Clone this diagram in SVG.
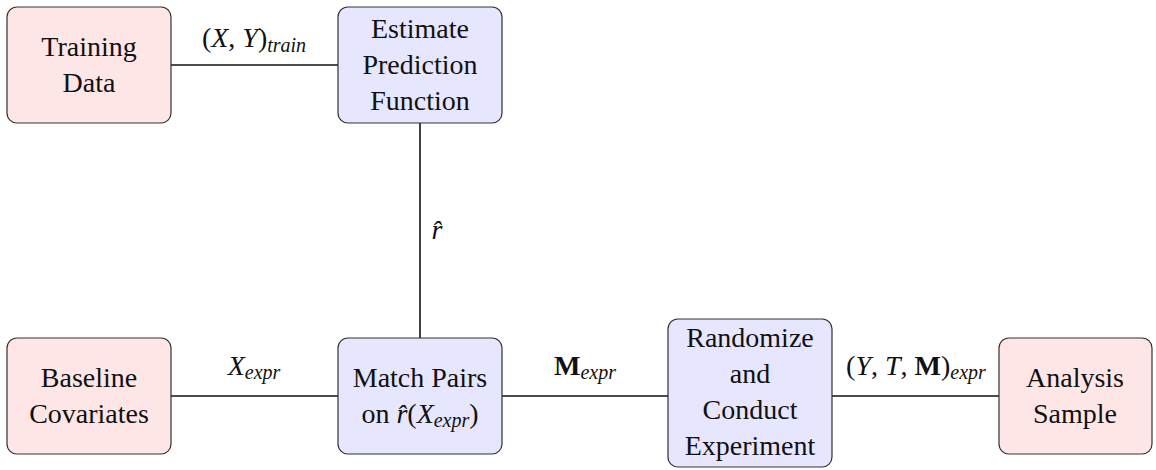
<svg xmlns="http://www.w3.org/2000/svg" width="1156" height="470" viewBox="0 0 1156 470">
<style>
.box{stroke:#333;stroke-width:1.2}
.in{fill:#ffe6e6}
.pr{fill:#e6e6ff}
.t{font-family:"Liberation Serif","Times New Roman",Times,serif;font-size:28px;fill:#111;text-anchor:middle}
.i{font-style:italic}
.s{font-size:20px;font-style:italic}
.b{font-weight:bold}
.e{stroke:#111;stroke-width:1.6;fill:none}
</style>
<rect width="1156" height="470" fill="#fff"/>
<g id="edges">
<line class="e" x1="171" y1="65" x2="338" y2="65"/>
<line class="e" x1="420" y1="123" x2="420" y2="338"/>
<line class="e" x1="171" y1="396" x2="338" y2="396"/>
<line class="e" x1="502" y1="396" x2="668" y2="396"/>
<line class="e" x1="832" y1="396" x2="999" y2="396"/>
<text class="t" x="254" y="47">(<tspan class="i">X</tspan>, <tspan class="i">Y</tspan>)<tspan class="s" dy="5">train</tspan></text>
<text class="t i" x="437" y="239">r̂</text>
<text class="t" x="254" y="375"><tspan class="i">X</tspan><tspan class="s" dy="4">expr</tspan></text>
<text class="t" x="585" y="375"><tspan class="b">M</tspan><tspan class="s" dy="4">expr</tspan></text>
<text class="t" x="916" y="375">(<tspan class="i">Y</tspan>, <tspan class="i">T</tspan>, <tspan class="b">M</tspan>)<tspan class="s" dy="4">expr</tspan></text>
</g>
<g id="training">
<rect class="box in" x="7" y="7" width="164" height="116" rx="10"/>
<text class="t" x="89" y="56">Training</text>
<text class="t" x="89" y="92">Data</text>
</g>
<g id="estimate">
<rect class="box pr" x="338" y="7" width="164" height="116" rx="10"/>
<text class="t" x="420" y="38">Estimate</text>
<text class="t" x="420" y="74">Prediction</text>
<text class="t" x="420" y="110">Function</text>
</g>
<g id="baseline">
<rect class="box in" x="7" y="338" width="164" height="116" rx="10"/>
<text class="t" x="89" y="387">Baseline</text>
<text class="t" x="89" y="423">Covariates</text>
</g>
<g id="match">
<rect class="box pr" x="338" y="338" width="164" height="116" rx="10"/>
<text class="t" x="420" y="387">Match Pairs</text>
<text class="t" x="420" y="423">on <tspan class="i">r̂</tspan>(<tspan class="i">X</tspan><tspan class="s" dy="4">expr</tspan><tspan dy="-4">)</tspan></text>
</g>
<g id="randomize">
<rect class="box pr" x="668" y="319" width="164" height="148" rx="10"/>
<text class="t" x="750" y="347">Randomize</text>
<text class="t" x="750" y="383">and</text>
<text class="t" x="750" y="419">Conduct</text>
<text class="t" x="750" y="455">Experiment</text>
</g>
<g id="analysis">
<rect class="box in" x="999" y="338" width="153" height="116" rx="10"/>
<text class="t" x="1075" y="387">Analysis</text>
<text class="t" x="1075" y="423">Sample</text>
</g>
</svg>
